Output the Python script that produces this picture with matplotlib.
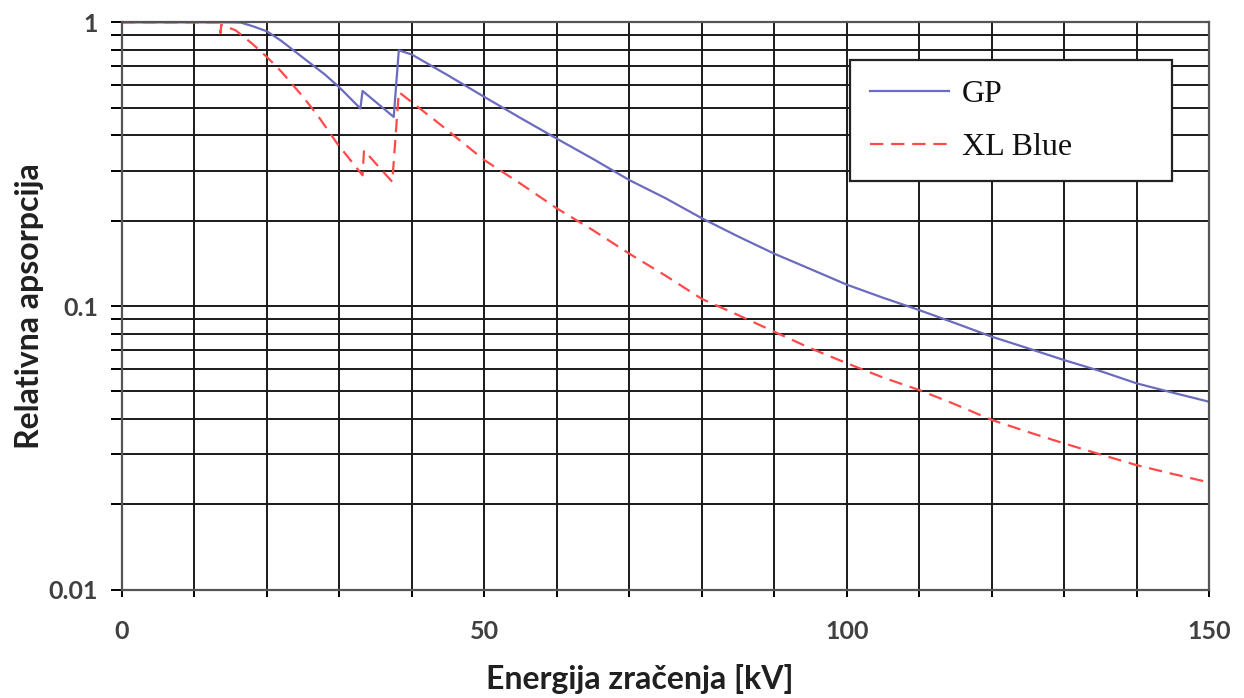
import matplotlib
matplotlib.use('Agg')
import matplotlib.pyplot as plt
from matplotlib.ticker import FixedLocator, LogLocator, NullFormatter, FuncFormatter
import numpy as np

# GP
gp_kv = [0, 5, 10, 15, 16.4, 18, 20, 22, 25, 28, 30, 32.9, 33.2, 37.5, 38.2, 40, 45, 50, 55,
         60, 65, 70, 75, 80, 85, 90, 95, 100, 105, 110, 115, 120, 125, 130, 135, 140, 145, 150]
gp_abs = [1.0, 1.0, 1.0, 1.0, 0.998, 0.97, 0.93, 0.86, 0.75, 0.655, 0.59, 0.497, 0.573, 0.464,
          0.797, 0.77, 0.65, 0.546, 0.46, 0.389, 0.33, 0.278, 0.24, 0.204, 0.176, 0.153, 0.135,
          0.119, 0.107, 0.0968, 0.087, 0.078, 0.071, 0.0645, 0.059, 0.0534, 0.0495, 0.046]

# XL Blue
xl_kv = [0, 5, 10, 13.5, 13.6, 13.7, 15.7, 18, 20, 22, 25, 27, 29.7, 33.2, 33.4, 37.3, 38.2,
         43.7, 50, 55, 60, 65, 70, 75, 80, 85, 90, 95, 100, 105, 110, 115, 120, 125, 130, 135,
         140, 145, 150]
xl_abs = [1.0, 1.0, 1.0, 1.0, 0.915, 0.98, 0.937, 0.84, 0.755, 0.67, 0.546, 0.47, 0.374, 0.289,
          0.354, 0.274, 0.568, 0.441, 0.327, 0.27, 0.221, 0.185, 0.153, 0.128, 0.106, 0.093,
          0.0812, 0.071, 0.0629, 0.056, 0.0506, 0.045, 0.0397, 0.036, 0.0328, 0.030, 0.0275,
          0.0256, 0.0239]

fig = plt.figure(figsize=(12.44, 6.98), dpi=100)
ax = fig.add_axes([0.098, 0.155, 0.874, 0.813])

ax.plot(gp_kv, gp_abs, color='#6b6bbf', lw=1.6, label='GP')
ax.plot(xl_kv, xl_abs, color='#ff4a4a', lw=1.6, ls=(0, (6, 3.5)), label='XL Blue')

ax.set_yscale('log')
ax.set_xlim(0, 150)
ax.set_ylim(0.01, 1)

ax.xaxis.set_major_locator(FixedLocator([0, 50, 100, 150]))
ax.xaxis.set_minor_locator(FixedLocator(np.arange(0, 151, 10)))
ax.yaxis.set_major_locator(LogLocator(base=10, numticks=5))
ax.yaxis.set_minor_locator(LogLocator(base=10, subs=np.arange(2, 10), numticks=20))
ax.yaxis.set_major_formatter(FuncFormatter(lambda v, p: '%g' % v))
ax.yaxis.set_minor_formatter(NullFormatter())

ax.grid(True, which='both', axis='both', color='#1a1a1a', lw=1.4)
ax.set_axisbelow(True)

ax.tick_params(axis='x', which='both', direction='out', length=5, width=1.4, pad=17,
               labelcolor='#404040')
ax.tick_params(axis='y', which='both', direction='out', length=8, width=1.4, pad=9,
               labelcolor='#404040')
for lab in ax.get_xticklabels() + ax.get_yticklabels():
    lab.set_fontfamily('Lato')
    lab.set_fontweight('bold')
    lab.set_fontsize(18)

for s in ax.spines.values():
    s.set_color('#555555')
    s.set_linewidth(1.6)

ax.set_xlabel('Energija zračenja [kV]', family='Lato', weight='bold', size=23,
              color='#202020')
ax.set_ylabel('Relativna apsorpcija', family='Lato', weight='bold', size=23,
              color='#202020')
ax.xaxis.set_label_coords(0.476, -0.158)
ax.yaxis.set_label_coords(-0.085, 0.5)
ax.xaxis.label.set_va('center')
ax.yaxis.label.set_va('center')

leg = ax.legend(loc='upper left', bbox_to_anchor=(0.670, 0.731, 0.296, 0.202),
                mode='expand', prop=dict(family='Liberation Serif', size=23),
                frameon=True, fancybox=False, framealpha=1, edgecolor='#222222',
                handlelength=2.5, handletextpad=0.4, labelspacing=0.75,
                borderpad=0.6, borderaxespad=0)
leg.get_frame().set_linewidth(1.6)
for t in leg.get_texts():
    t.set_color('#111111')

fig.savefig('out.png', dpi=100)
